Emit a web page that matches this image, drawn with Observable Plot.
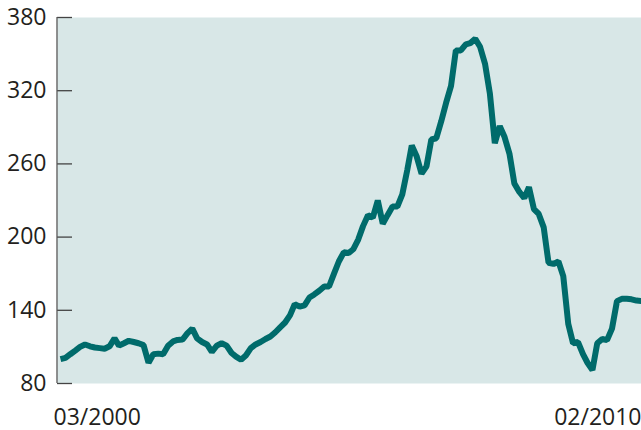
<!DOCTYPE html>
<html>
<head>
<meta charset="utf-8">
<script src="https://cdn.jsdelivr.net/npm/d3@7"></script>
<script src="https://cdn.jsdelivr.net/npm/@observablehq/plot@0.6"></script>
<style>
  html, body { margin: 0; padding: 0; background: #fff; }
  svg { display: block; }
</style>
</head>
<body>
<div id="chart"></div>
<script>
const startMonth = "2000-03";
const endMonth = "2010-02";
const values = [
  100, 101, 104, 107, 110, 112, 110.5, 109.5, 109, 108.5,
  110.5, 117, 111, 113, 115, 114, 113, 111.5, 97, 104,
  104.5, 104, 111, 114.5, 115.7, 116, 121, 125, 117, 114,
  112, 106, 111, 113, 111, 105, 102, 99.5, 103, 109,
  112, 114, 116.5, 118.5, 122, 126, 130, 136, 145, 143,
  144, 150.5, 153, 156, 159.5, 159.5, 170, 180, 187.5, 187,
  190, 198, 209, 218, 216, 230, 211, 218, 225, 225,
  235, 255, 275, 266, 252, 258, 280, 281, 295, 310,
  324, 353, 353, 358, 359, 362.5, 356, 342, 318, 277,
  291, 282, 268, 244, 237, 232, 241, 223, 219, 208,
  179, 178, 180, 168, 129, 113, 114, 104, 97, 91,
  113, 116.5, 115.5, 125, 147.5, 149.4, 149.4, 149, 148, 147.5
];
const yTicks = [80, 140, 200, 260, 320, 380];
const xLabels = ["03/2000", "02/2010"];

const parse = d3.utcParse("%Y-%m");
const dates = d3.utcMonth.range(parse(startMonth), d3.utcMonth.offset(parse(endMonth), 1));
const data = dates.map((d, i) => ({date: d, value: values[i]}));

const W = 641, H = 430;
const chart = Plot.plot({
  width: W,
  height: H,
  marginLeft: 57,
  marginRight: 0,
  marginTop: 17,
  marginBottom: 47,
  style: {fontFamily: "'Open Sans', sans-serif", fontSize: "23px", color: "#231f20", background: "#fff"},
  x: {type: "utc", domain: [dates[0], dates[dates.length - 1]], range: [60, 641], axis: null},
  y: {domain: [80, 380]},
  marks: [
    Plot.frame({fill: "#d8e7e7", stroke: null}),
    Plot.axisY(yTicks, {tickSize: -15, tickPadding: 26, stroke: "#444", strokeWidth: 1.3, fill: "#231f20", fontSize: 23, tickFormat: d => String(d), label: null}),
    Plot.ruleX([0], {x: () => dates[0], dx: -3.5, stroke: "#555", strokeWidth: 1.3, y1: 80, y2: 380}),
    Plot.line(data, {x: "date", y: "value", stroke: "#006b6b", strokeWidth: 6, strokeLinejoin: "miter", strokeLinecap: "butt"}),
    Plot.text([xLabels[0]], {x: () => dates[0], frameAnchor: "bottom", textAnchor: "start", dx: -7, dy: 41, text: d => d, fontSize: 23, fill: "#231f20"}),
    Plot.text([xLabels[1]], {x: () => dates[dates.length - 1], frameAnchor: "bottom", textAnchor: "end", dy: 41, text: d => d, fontSize: 23, fill: "#231f20"})
  ]
});
document.getElementById("chart").appendChild(chart);
</script>
</body>
</html>
